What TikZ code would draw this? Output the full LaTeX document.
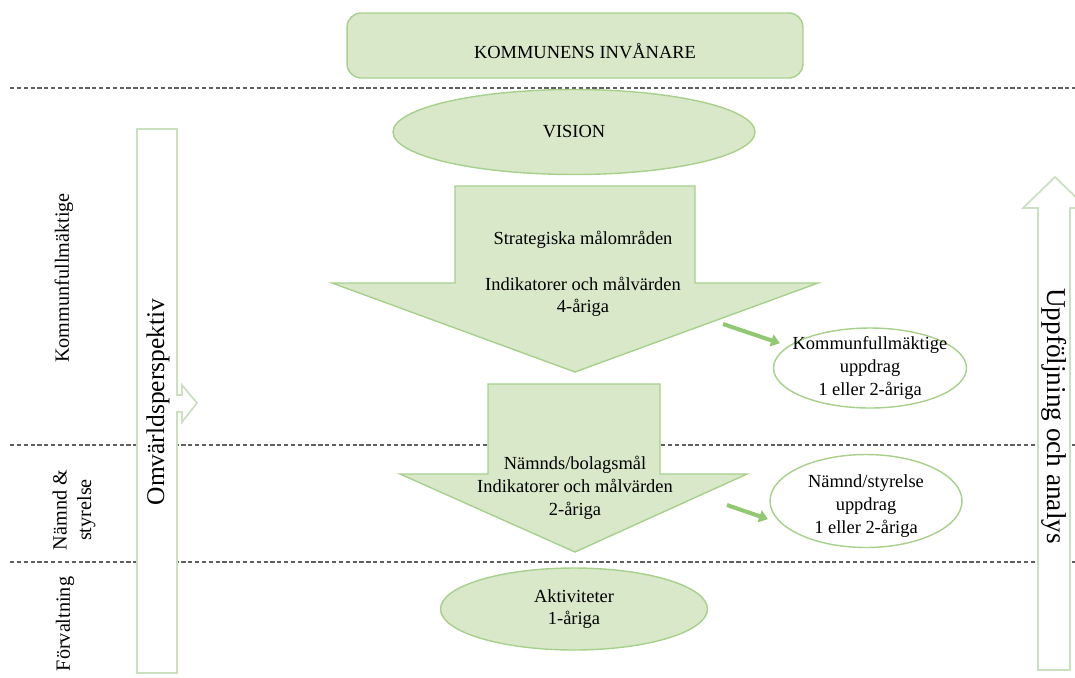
\documentclass[tikz,border=0pt]{standalone}
\usepackage{fontspec}
\setmainfont{Liberation Serif}
\usetikzlibrary{shapes.geometric, arrows.meta, positioning}
\definecolor{leaffill}{RGB}{216,232,200}
\definecolor{leafline}{RGB}{168,208,141}
\definecolor{leafpale}{RGB}{202,224,190}
\definecolor{leafarrow}{RGB}{146,200,113}
\definecolor{lanegray}{RGB}{95,95,95}

\tikzset{
  lane/.style={draw=lanegray, line width=0.6pt, dash pattern=on 2.4pt off 1.5pt},
  greenshape/.style={draw=leafline, fill=leaffill, line width=0.8pt},
  oval/.style={ellipse, greenshape, inner sep=0pt},
  paleshape/.style={draw=leafpale, fill=white, line width=1pt},
  txt/.style={font=\fontsize{10.5}{13}\selectfont, align=center},
  sidelbl/.style={font=\fontsize{11.5}{14}\selectfont, align=center, rotate=90},
  pil/.style={draw=leafarrow, line width=2.3pt, -{Triangle[length=5pt, width=7pt]}},
}

\begin{document}
\begin{tikzpicture}[x=0.02cm, y=-0.02cm]
  \useasboundingbox (0,0) rectangle (1075,677);

  % Lane borders
  \draw[lane] (10,88) -- (1075,88);
  \draw[lane] (10,445) -- (1075,445);
  \draw[lane] (10,562) -- (1075,562);

  % Side labels
  \node[sidelbl] (lkf) at (64,278) {Kommunfullmäktige};
  \node[sidelbl] (lns) at (74,510) {Nämnd \&\\styrelse};
  \node[sidelbl] (lfv) at (65,624) {Förvaltning};

  % Outer perspective and follow-up
  \draw[paleshape] (137,129) -- (177,129) -- (177,395) -- (182,395) -- (182,385) -- (197,403)
    -- (182,422) -- (182,412) -- (177,412) -- (177,673) -- (137,673) -- cycle;
  \node[rotate=90, font=\fontsize{14.5}{17}\selectfont] (omv) at (158,402) {Omvärldsperspektiv};
  \draw[paleshape] (1038,670) -- (1038,208) -- (1023,208) -- (1055,177) -- (1087,208)
    -- (1070,208) -- (1070,670) -- cycle;
  \node[rotate=-90, font=\fontsize{15.5}{18}\selectfont] (upf) at (1054,416) {Uppföljning och analys};

  % Top and vision
  \node[greenshape, rounded corners=8pt, minimum width=9.12cm, minimum height=1.3cm,
    label={[txt, xshift=0.2cm, yshift=-0.12cm]center:KOMMUNENS INVÅNARE}] (inv) at (575,45.5) {};
  \node[oval, minimum width=7.24cm, minimum height=1.7cm, txt] (vis) at (574,132) {VISION};

  % Goal arrows
  \draw[greenshape] (455,186) -- (695,186) -- (695,283) -- (818,283) -- (575,372) -- (332,283) -- (455,283) -- cycle;
  \node[txt] (strat) at (583,274) {Strategiska målområden\\[13pt]Indikatorer och målvärden\\4-åriga};
  \draw[greenshape] (488,384) -- (660,384) -- (660,474) -- (747,474) -- (575,552) -- (400,474) -- (488,474) -- cycle;
  \node[txt] (bolag) at (575,488) {Nämnds/bolagsmål\\Indikatorer och målvärden\\2-åriga};

  % Assignments
  \node[oval, minimum width=3.86cm, minimum height=1.6cm, fill=white,
    label={[txt]center:Kommunfullmäktige\\uppdrag\\1 eller 2-åriga}] (kfu) at (870,368) {};
  \node[oval, minimum width=3.84cm, minimum height=1.86cm, fill=white,
    label={[txt, yshift=-0.1cm]center:Nämnd/styrelse\\uppdrag\\1 eller 2-åriga}] (nsu) at (866,501) {};
  \coordinate (s1) at (723,324);
  \coordinate (s2) at (727,505);
  \draw[pil, shorten >=5pt] (s1) -- (kfu.165);
  \draw[pil, shorten >=8pt] (s2) -- (nsu.195);

  % Activities
  \node[oval, minimum width=5.34cm, minimum height=1.64cm, txt] (akt) at (574,609) {Aktiviteter\\1-åriga};
\end{tikzpicture}
\end{document}
